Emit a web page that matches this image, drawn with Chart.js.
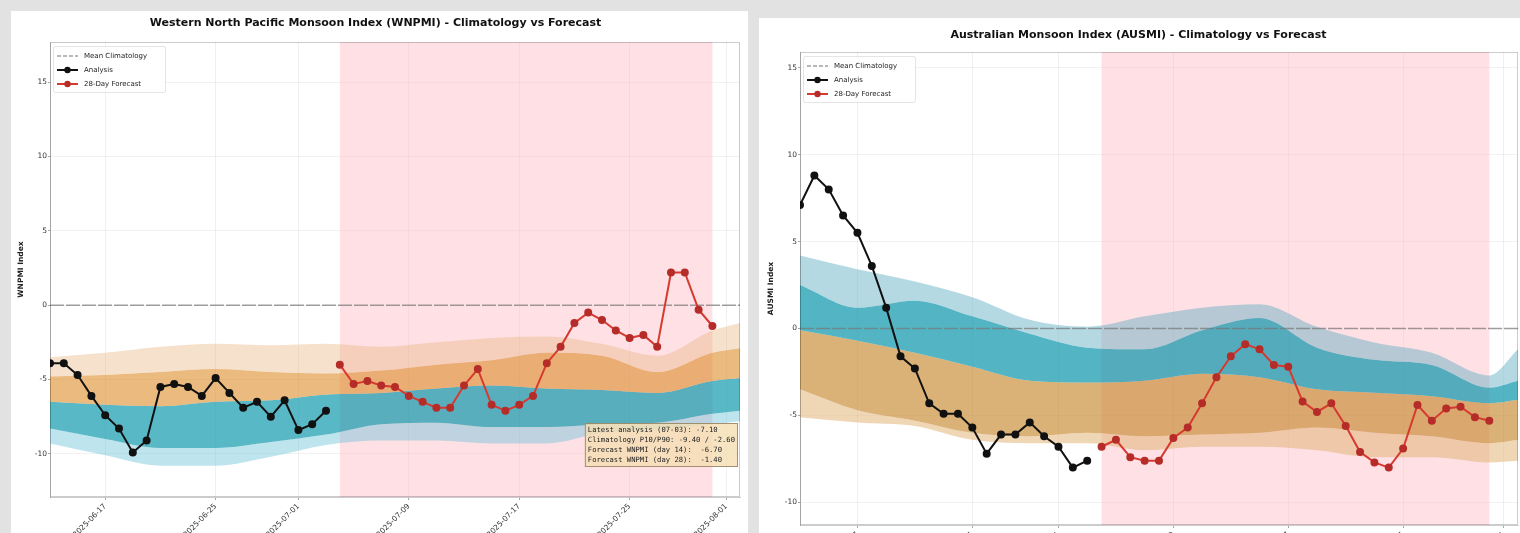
<!DOCTYPE html>
<html>
<head>
<meta charset="utf-8">
<title>Monsoon Index Monitor</title>
<script src="https://cdn.jsdelivr.net/npm/chart.js@4.4.1/dist/chart.umd.min.js"></script>
<style>
  html, body { margin:0; padding:0; width:1520px; height:533px; overflow:hidden; background:#e2e2e2; font-family:'DejaVu Sans', sans-serif; }
  .panel { position:absolute; background:#fff; }
  #panelW { left:11px; top:11px; width:737px; height:540px; }
  #panelA { left:759px; top:18px; width:780px; height:560px; }
  canvas { position:absolute; left:0; top:0; }
</style>
</head>
<body>
<div class="panel" id="panelW"><canvas id="wnpmiChart" width="737" height="530"></canvas></div>
<div class="panel" id="panelA"><canvas id="ausmiChart" width="775" height="560"></canvas></div>
<script>
// ---- shared daily time axis (day 0 = 2025-06-13) ----
const tickDays = [4, 12, 18, 26, 34, 42, 49];
const tickLabels = ['2025-06-17', '2025-06-25', '2025-07-01', '2025-07-09', '2025-07-17', '2025-07-25', '2025-08-01'];
const forecastStart = 21;
const forecastEnd = 48;
const meanDays = [0, 50];
const meanClimatology = [0, 0];
const bandDays = [0, 4, 8, 12, 16, 20, 24, 28, 32, 36, 40, 44, 48, 50];

// ---- WNPMI ----
const wnpmiAnalysis = [-3.9, -3.9, -4.7, -6.1, -7.4, -8.3, -9.9, -9.1, -5.5, -5.3, -5.5, -6.1, -4.9, -5.9, -6.9, -6.5, -7.5, -6.4, -8.4, -8.0, -7.1];
const wnpmiForecast = [-4.0, -5.3, -5.1, -5.4, -5.5, -6.1, -6.5, -6.9, -6.9, -5.4, -4.3, -6.7, -7.1, -6.7, -6.1, -3.9, -2.8, -1.2, -0.5, -1.0, -1.7, -2.2, -2.0, -2.8, 2.2, 2.2, -0.3, -1.4];
const wnpmiP90 = [-3.5, -3.2, -2.8, -2.6, -2.7, -2.6, -2.8, -2.5, -2.2, -2.1, -2.6, -3.4, -1.7, -1.2];
const wnpmiP75 = [-4.8, -4.7, -4.5, -4.3, -4.5, -4.6, -4.4, -4.0, -3.7, -3.2, -3.4, -4.5, -3.2, -2.9];
const wnpmiP50 = [-6.5, -6.7, -6.8, -6.5, -6.4, -6.0, -5.9, -5.6, -5.4, -5.6, -5.7, -5.9, -5.1, -4.9];
const wnpmiP25 = [-8.3, -9.0, -9.6, -9.6, -9.2, -8.7, -8.0, -7.9, -8.2, -8.2, -8.0, -7.9, -7.3, -7.1];
const wnpmiP10 = [-9.3, -10.1, -10.8, -10.8, -10.2, -9.4, -9.1, -9.1, -9.3, -9.3, -8.6, -8.4, -8.0, -7.8];

// ---- AUSMI ----
const ausmiAnalysis = [7.1, 8.8, 8.0, 6.5, 5.5, 3.6, 1.2, -1.6, -2.3, -4.3, -4.9, -4.9, -5.7, -7.2, -6.1, -6.1, -5.4, -6.2, -6.8, -8.0, -7.6];
const ausmiForecast = [-6.8, -6.4, -7.4, -7.6, -7.6, -6.3, -5.7, -4.3, -2.8, -1.6, -0.9, -1.2, -2.1, -2.2, -4.2, -4.8, -4.3, -5.6, -7.1, -7.7, -8.0, -6.9, -4.4, -5.3, -4.6, -4.5, -5.1, -5.3];
const ausmiP90 = [4.2, 3.4, 2.7, 1.8, 0.5, 0.1, 0.7, 1.2, 1.4, 0.1, -0.8, -1.4, -2.7, -1.2];
const ausmiP75 = [2.5, 1.2, 1.6, 0.7, -0.3, -1.1, -1.2, -0.1, 0.6, -1.1, -1.8, -2.1, -3.4, -3.0];
const ausmiP50 = [-0.1, -0.7, -1.4, -2.2, -3.0, -3.1, -3.0, -2.6, -2.8, -3.5, -3.7, -3.9, -4.3, -4.1];
const ausmiP25 = [-3.5, -4.7, -5.3, -6.0, -6.2, -6.0, -6.2, -6.1, -6.0, -5.7, -6.0, -6.2, -6.6, -6.4];
const ausmiP10 = [-5.1, -5.4, -5.6, -6.4, -6.6, -6.6, -7.0, -6.8, -6.8, -7.0, -7.4, -7.4, -7.7, -7.6];

const FONT = "'DejaVu Sans', sans-serif";
const MONO = "'DejaVu Sans Mono', monospace";
const analysisColor = '#111111';
const forecastLine = '#d63a2f';
const forecastPoint = '#b52c28';
const meanColor = 'rgba(120,120,120,0.7)';
const fmt = v => (v >= 0 ? '+' : '') + v.toFixed(2);

const toPoints = (xs, ys) => ys.map((v, i) => ({ x: xs[i], y: v }));
const seq = (start, ys) => ys.map((v, i) => ({ x: start + i, y: v }));

// legend box in the upper-left corner of the plot area
function drawLegend(ctx, a, forecastText) {
  const rows = [
    { text: 'Mean Climatology', kind: 'mean' },
    { text: 'Analysis', kind: 'analysis' },
    { text: forecastText, kind: 'forecast' }
  ];
  ctx.save();
  const bx = a.left + 3, by = a.top + 4, bw = 112, bh = 46;
  ctx.fillStyle = 'rgba(255,255,255,0.8)';
  ctx.strokeStyle = 'rgba(0,0,0,0.1)';
  ctx.lineWidth = 1;
  ctx.beginPath();
  ctx.roundRect(bx + 0.5, by + 0.5, bw, bh, 2);
  ctx.fill();
  ctx.stroke();
  ctx.font = '7px ' + FONT;
  ctx.textBaseline = 'middle';
  rows.forEach((r, i) => {
    const y = a.top + 14 + i * 14;
    const x0 = a.left + 7, x1 = a.left + 28, xm = (x0 + x1) / 2;
    ctx.beginPath();
    if (r.kind === 'mean') {
      ctx.setLineDash([4, 2]);
      ctx.strokeStyle = meanColor;
      ctx.lineWidth = 1.5;
    } else {
      ctx.setLineDash([]);
      ctx.strokeStyle = r.kind === 'analysis' ? analysisColor : forecastLine;
      ctx.lineWidth = 2;
    }
    ctx.moveTo(x0, y); ctx.lineTo(x1, y); ctx.stroke();
    ctx.setLineDash([]);
    if (r.kind !== 'mean') {
      ctx.fillStyle = r.kind === 'analysis' ? analysisColor : forecastPoint;
      ctx.beginPath(); ctx.arc(xm, y, 3.2, 0, Math.PI * 2); ctx.fill();
    }
    ctx.fillStyle = '#222';
    ctx.fillText(r.text, a.left + 34, y + 0.5);
  });
  ctx.restore();
}

// summary box in the lower-right corner of the plot area
function drawStats(ctx, a, lines) {
  ctx.save();
  ctx.font = '7.2px ' + MONO;
  const lh = 10, pad = 3;
  const w = Math.max(...lines.map(l => ctx.measureText(l).width)) + pad * 2;
  const h = lines.length * lh + pad * 2 - 2;
  const x1 = a.right - 2, y1 = a.bottom - 30;
  const x0 = x1 - w, y0 = y1 - h;
  ctx.fillStyle = 'rgba(245,222,179,0.8)';
  ctx.strokeStyle = 'rgba(110,90,60,0.6)';
  ctx.lineWidth = 1;
  ctx.fillRect(x0, y0, w, h);
  ctx.strokeRect(x0 + 0.5, y0 + 0.5, w - 1, h - 1);
  ctx.fillStyle = '#222';
  ctx.textBaseline = 'middle';
  lines.forEach((l, i) => ctx.fillText(l, x0 + pad, y0 + pad + lh * i + lh / 2 - 1));
  ctx.restore();
}

function buildChart(canvasId, cfg) {
  const bandSets = cfg.bands.map(b => ({
    data: toPoints(bandDays, b.values),
    fill: b.color ? '+1' : false,
    backgroundColor: b.color || 'transparent',
    borderColor: 'transparent',
    borderWidth: 0,
    pointRadius: 0,
    cubicInterpolationMode: 'monotone',
    order: 5
  }));

  const datasets = [
    {
      label: 'Analysis',
      data: seq(0, cfg.analysis),
      borderColor: analysisColor,
      backgroundColor: analysisColor,
      pointBackgroundColor: analysisColor,
      pointBorderColor: analysisColor,
      borderWidth: 2,
      pointRadius: 3,
      fill: false,
      order: 0
    },
    {
      label: cfg.forecastLabel,
      data: seq(forecastStart, cfg.forecast),
      borderColor: forecastLine,
      backgroundColor: forecastPoint,
      pointBackgroundColor: forecastPoint,
      pointBorderColor: forecastPoint,
      borderWidth: 2,
      pointRadius: 3,
      fill: false,
      order: 0
    },
    {
      label: 'Mean Climatology',
      data: toPoints(meanDays, meanClimatology),
      borderColor: meanColor,
      borderWidth: 1.5,
      borderDash: [14, 2],
      pointRadius: 0,
      fill: false,
      order: 1
    },
    ...bandSets
  ];

  const decorations = {
    id: 'decorations',
    beforeDatasetsDraw(chart) {
      const { ctx, chartArea: a, scales: { x } } = chart;
      const x0 = x.getPixelForValue(forecastStart), x1 = x.getPixelForValue(forecastEnd);
      ctx.save();
      ctx.fillStyle = 'rgba(255,182,193,0.42)';
      ctx.fillRect(x0, a.top, x1 - x0, a.bottom - a.top);
      ctx.restore();
    },
    afterDraw(chart) {
      const { ctx, chartArea: a } = chart;
      ctx.save();
      ctx.strokeStyle = 'rgba(0,0,0,0.2)';
      ctx.lineWidth = 1;
      ctx.strokeRect(a.left + 0.5, a.top + 0.5, a.right - a.left - 1, a.bottom - a.top - 1);
      ctx.restore();
      drawLegend(ctx, a, cfg.forecastLabel);
      if (cfg.stats) drawStats(ctx, a, cfg.stats);
    }
  };

  return new Chart(document.getElementById(canvasId), {
    type: 'line',
    data: { datasets },
    plugins: [decorations],
    options: {
      responsive: false,
      animation: false,
      events: [],
      layout: { padding: { top: 0, left: 0, right: cfg.padRight, bottom: 0 } },
      plugins: {
        legend: { display: false },
        tooltip: { enabled: false },
        title: {
          display: true,
          text: cfg.title,
          color: '#111',
          font: { family: FONT, size: 11, weight: 'bold' },
          padding: { top: cfg.titleTop, bottom: cfg.titleBottom }
        }
      },
      scales: {
        x: {
          type: 'linear',
          min: 0,
          max: 50,
          afterBuildTicks: s => { s.ticks = tickDays.map(v => ({ value: v })); },
          afterFit: s => { s.height = cfg.xHeight; },
          ticks: {
            autoSkip: false,
            minRotation: 45,
            maxRotation: 45,
            padding: 2,
            color: '#333',
            font: { family: FONT, size: 7.5 },
            callback: (v, i) => tickLabels[i]
          },
          grid: { color: 'rgba(0,0,0,0.06)', tickLength: 3, tickColor: 'rgba(0,0,0,0.35)' },
          border: { color: 'rgba(0,0,0,0.2)' }
        },
        y: {
          min: cfg.yMin,
          max: cfg.yMax,
          afterFit: s => { s.width = cfg.yWidth; },
          ticks: {
            stepSize: 5,
            includeBounds: false,
            padding: 1,
            color: '#333',
            font: { family: FONT, size: 7.5 }
          },
          grid: { color: 'rgba(0,0,0,0.05)', tickLength: 2, tickColor: 'rgba(0,0,0,0.35)' },
          border: { color: 'rgba(0,0,0,0.2)' },
          title: {
            display: true,
            text: cfg.yTitle,
            color: '#222',
            font: { family: FONT, size: 7.5, weight: 'bold' },
            padding: { top: cfg.yTitlePad, bottom: 0 }
          }
        }
      }
    }
  });
}

buildChart('wnpmiChart', {
  title: 'Western North Pacific Monsoon Index (WNPMI) - Climatology vs Forecast',
  yTitle: 'WNPMI Index',
  forecastLabel: '28-Day Forecast',
  analysis: wnpmiAnalysis,
  forecast: wnpmiForecast,
  bands: [
    { values: wnpmiP90, color: 'rgba(232,180,120,0.38)' },
    { values: wnpmiP75, color: 'rgba(220,140,40,0.6)' },
    { values: wnpmiP50, color: 'rgba(10,150,170,0.68)' },
    { values: wnpmiP25, color: 'rgba(110,195,215,0.45)' },
    { values: wnpmiP10, color: null }
  ],
  stats: [
    `Latest analysis (07-03): ${fmt(wnpmiAnalysis[wnpmiAnalysis.length - 1])}`,
    `Climatology P10/P90: ${fmt(wnpmiP10[5])} / ${fmt(wnpmiP90[5])}`,
    `Forecast WNPMI (day 14):  ${fmt(wnpmiForecast[13])}`,
    `Forecast WNPMI (day 28):  ${fmt(wnpmiForecast[27])}`
  ],
  yMin: -12.9, yMax: 17.7,
  padRight: 8, yWidth: 39, xHeight: 44,
  titleTop: 5.4, titleBottom: 12.4, yTitlePad: 6
});

buildChart('ausmiChart', {
  title: 'Australian Monsoon Index (AUSMI) - Climatology vs Forecast',
  yTitle: 'AUSMI Index',
  forecastLabel: '28-Day Forecast',
  analysis: ausmiAnalysis,
  forecast: ausmiForecast,
  bands: [
    { values: ausmiP90, color: 'rgba(100,175,195,0.48)' },
    { values: ausmiP75, color: 'rgba(10,150,170,0.7)' },
    { values: ausmiP50, color: 'rgba(195,130,35,0.62)' },
    { values: ausmiP25, color: 'rgba(225,180,120,0.55)' },
    { values: ausmiP10, color: null }
  ],
  stats: null,
  yMin: -11.3, yMax: 15.9,
  padRight: 16, yWidth: 41, xHeight: 53,
  titleTop: 10.5, titleBottom: 10.3, yTitlePad: 8
});
</script>
</body>
</html>
